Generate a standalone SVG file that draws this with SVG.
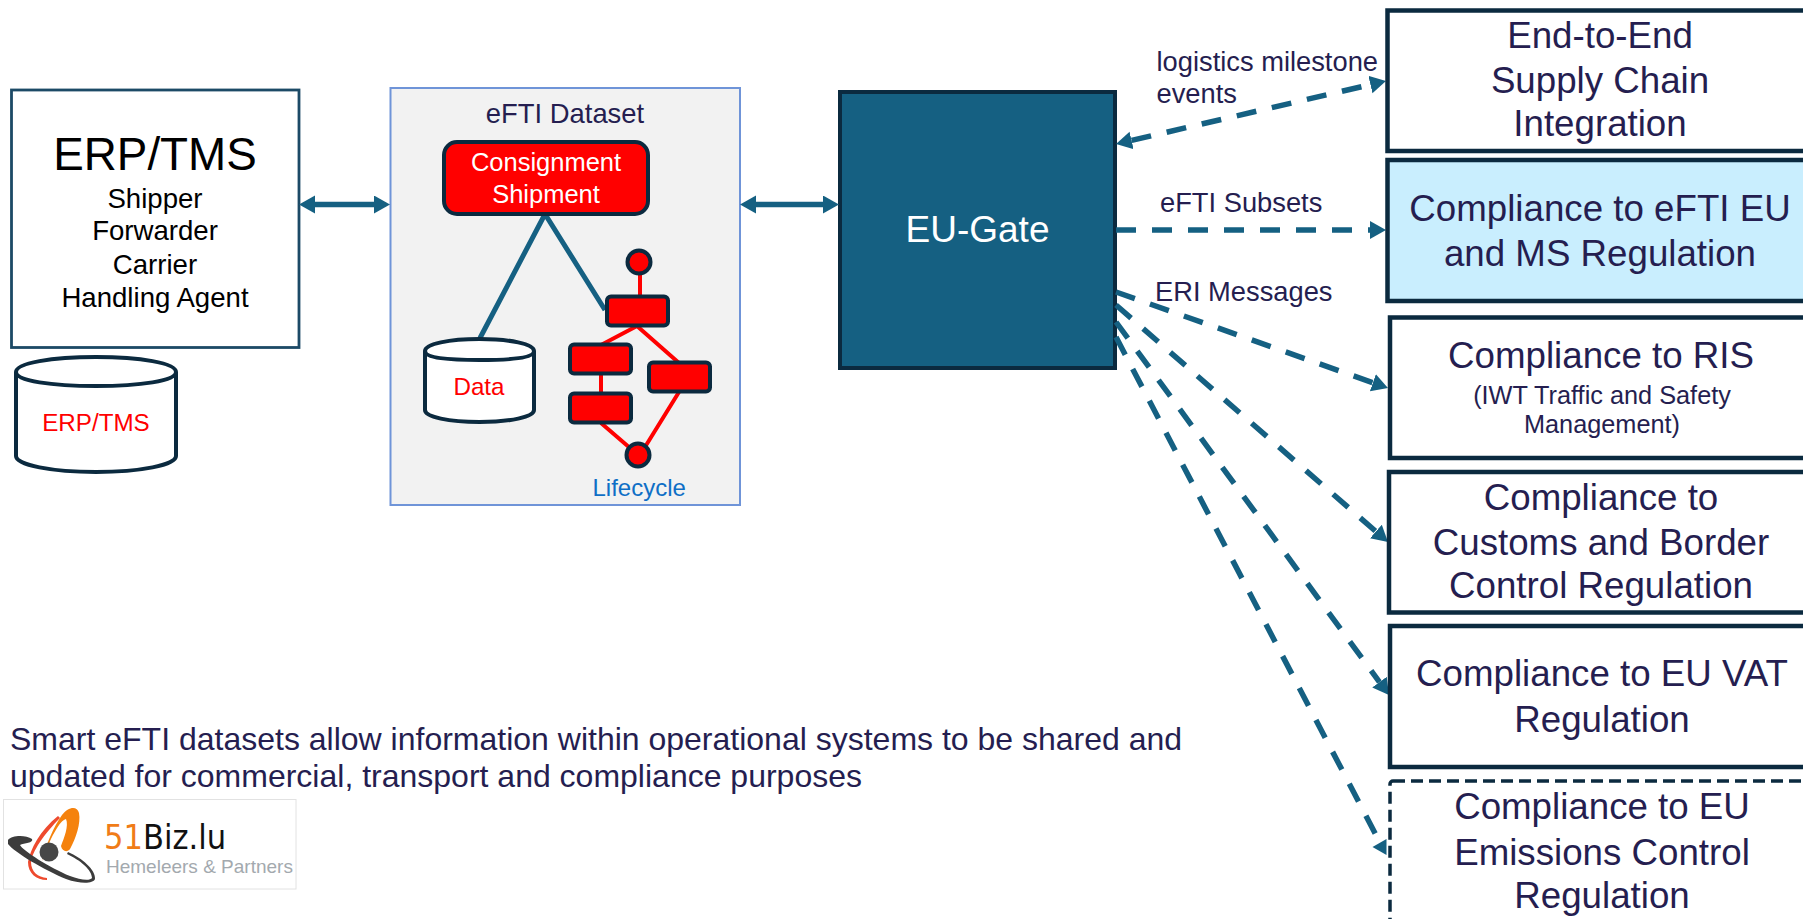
<svg xmlns="http://www.w3.org/2000/svg" width="1803" height="919" viewBox="0 0 1803 919">
<style>
text{font-family:"Liberation Sans",Arial,sans-serif;fill:#251e50}
.c{text-anchor:middle}
.box{fill:#fff;stroke:#0b2a3f;stroke-width:4.5}
.big{font-size:36.7px}
.sub{font-size:25.3px}
.lab{font-size:27.3px}
.blk{font-size:27.6px;fill:#000}
.red{fill:#f00;stroke:#0b2a3f;stroke-width:4}
.rl{stroke:#f00;stroke-width:4;fill:none}
.cyl{fill:#fff;stroke:#0b2a3f;stroke-width:4}
.sol{stroke:#156082;stroke-width:5.5;fill:none}
.dash{stroke:#156082;stroke-width:5.5;fill:none;stroke-dasharray:20 16}
</style>
<defs>
<marker id="ah" markerUnits="userSpaceOnUse" markerWidth="17" markerHeight="20" refX="0" refY="9" orient="auto-start-reverse"><path d="M0 0L16 9L0 18Z" fill="#156082"/></marker>
<marker id="ahl" markerUnits="userSpaceOnUse" markerWidth="15" markerHeight="18" refX="0" refY="8" orient="180"><path d="M0 0L14 8L0 16Z" fill="#156082"/></marker>
</defs>
<rect width="1803" height="919" fill="#fff"/>

<g id="erp-tms">
<rect x="11.5" y="90" width="287.5" height="257.5" fill="#fff" stroke="#1c4a66" stroke-width="2.8"/>
<text class="c" x="155" y="170" font-size="45.8" style="fill:#000">ERP/TMS</text>
<text class="c blk" x="155" y="208">Shipper</text>
<text class="c blk" x="155" y="240">Forwarder</text>
<text class="c blk" x="155" y="274">Carrier</text>
<text class="c blk" x="155" y="307">Handling Agent</text>
</g>
<g id="erp-db">
<path class="cyl" d="M16 372V456C16 465 52 472 96 472S176 465 176 456V372C176 363 140 357 96 357S16 363 16 372C16 381 52 386 96 386S176 381 176 372"/>
<text class="c" x="96" y="431" font-size="24.200" style="fill:#f00">ERP/TMS</text>
</g>

<g id="dataset">
<rect x="390.5" y="88" width="349.5" height="417" fill="#f2f2f2" stroke="#6f94d8" stroke-width="2"/>
<text class="c" x="565" y="123" font-size="27.400">eFTI Dataset</text>
</g>
<g id="dataset-links">
<path d="M480 338L545 214L605 310" fill="none" stroke="#156082" stroke-width="5"/>
</g>
<g id="consignment">
<rect class="red" x="444" y="142" width="204" height="72" rx="13"/>
<text class="c" x="546" y="171" font-size="25.500" style="fill:#fff">Consignment</text>
<text class="c" x="546" y="203" font-size="25.500" style="fill:#fff">Shipment</text>
</g>
<g id="data">
<path class="cyl" d="M425 351V410C425 417 449 422 479.500 422S534 417 534 410V351C534 344 510 339 479.500 339S425 344 425 351C425 358 449 360 479.500 360S534 358 534 351"/>
<text class="c" x="479" y="395" font-size="24.200" style="fill:#f00">Data</text>
</g>
<g id="lifecycle">
<path class="rl" d="M640 272V296M637 326L601 345M637 326L679 363M601 374V393M601 423L630 448M679 392L645 447"/>
<circle class="red" cx="639" cy="262" r="11.500"/>
<rect class="red" x="607" y="296.500" width="61" height="29" rx="4"/>
<rect class="red" x="570" y="344.500" width="61" height="29" rx="4"/>
<rect class="red" x="570" y="393.500" width="61" height="29" rx="4"/>
<rect class="red" x="649" y="362.500" width="61" height="29" rx="4"/>
<circle class="red" cx="638" cy="455" r="11.500"/>
<text x="592.500" y="496" font-size="24" style="fill:#0f6fc6">Lifecycle</text>
</g>

<g id="eu-gate">
<rect x="840" y="92" width="275" height="276" fill="#156082" stroke="#0b2a3f" stroke-width="4"/>
<text class="c" x="977.500" y="242" font-size="37" style="fill:#fff">EU-Gate</text>
</g>

<g id="connectors">
<line class="sol" x1="315" y1="204.500" x2="374" y2="204.500" marker-start="url(#ah)" marker-end="url(#ah)"/>
<line class="sol" x1="756" y1="204.500" x2="823" y2="204.500" marker-start="url(#ah)" marker-end="url(#ah)"/>
<line class="dash" x1="1131.600" y1="140.400" x2="1370.400" y2="84.600" marker-start="url(#ah)" marker-end="url(#ah)"/>
<line class="dash" x1="1116" y1="230" x2="1370" y2="230" marker-end="url(#ah)"/>
<line class="dash" x1="1116" y1="292" x2="1372.900" y2="382.700" marker-end="url(#ah)"/>
<line class="dash" x1="1116" y1="305" x2="1375.900" y2="531.500" marker-end="url(#ah)"/>
<line class="dash" x1="1116" y1="322" x2="1379.500" y2="682.100" marker-end="url(#ah)"/>
<path class="dash" d="M1116 337L1376 835"/>
<line x1="1386" y1="847" x2="1386.500" y2="847" stroke="none" stroke-width="1" marker-end="url(#ahl)"/>
<text class="lab" x="1156.500" y="71">logistics milestone</text>
<text class="lab" x="1156.500" y="103">events</text>
<text class="lab" x="1160" y="212">eFTI Subsets</text>
<text class="lab" x="1155" y="301">ERI Messages</text>
</g>

<g id="e2e">
<rect class="box" x="1387.500" y="10.500" width="430" height="140.500"/>
<text class="c big" x="1600" y="48">End-to-End</text>
<text class="c big" x="1600" y="93">Supply Chain</text>
<text class="c big" x="1600" y="136">Integration</text>
</g>
<g id="eu-ms">
<rect class="box" x="1387.500" y="160" width="430" height="141" style="fill:#c9eefe"/>
<text class="c big" x="1600" y="221">Compliance to eFTI EU</text>
<text class="c big" x="1600" y="266">and MS Regulation</text>
</g>
<g id="ris">
<rect class="box" x="1390" y="317.500" width="430" height="140.500"/>
<text class="c big" x="1601" y="368">Compliance to RIS</text>
<text class="c sub" x="1602" y="404">(IWT Traffic and Safety</text>
<text class="c sub" x="1602" y="433">Management)</text>
</g>
<g id="customs">
<rect class="box" x="1389" y="472" width="430" height="140.500"/>
<text class="c big" x="1601" y="510">Compliance to</text>
<text class="c big" x="1601" y="555">Customs and Border</text>
<text class="c big" x="1601" y="598">Control Regulation</text>
</g>
<g id="vat">
<rect class="box" x="1390" y="626" width="430" height="141"/>
<text class="c big" x="1602" y="686">Compliance to EU VAT</text>
<text class="c big" x="1602" y="732">Regulation</text>
</g>
<g id="emissions">
<rect x="1390" y="781" width="430" height="170" rx="3" fill="#fff" stroke="#0b2a3f" stroke-width="3.500" stroke-dasharray="12 6"/>
<text class="c big" x="1602" y="819">Compliance to EU</text>
<text class="c big" x="1602" y="865">Emissions Control</text>
<text class="c big" x="1602" y="908">Regulation</text>
</g>

<g id="note">
<text x="10" y="750" font-size="32">Smart eFTI datasets allow information within operational systems to be shared and</text>
<text x="10" y="787" font-size="32">updated for commercial, transport and compliance purposes</text>
</g>

<g id="logo">
<rect x="3.500" y="799.500" width="292.500" height="89.500" fill="#fff" stroke="#e2e2e2" stroke-width="1"/>
<path d="M42 862C46 844 54 826 62 815C68 807 77 805 79 813C81 823 76 838 70 849C67 853 62 851 61 846C64 838 69 826 66 819C60 820 50 838 42 862Z" fill="#f5820d"/>
<path d="M47 880C36 880 28 873 28 862C30 850 40 830 58 816L60 818C44 834 32 852 31 862C31 872 38 877 47 878Z" fill="#ee4a2e"/>
<path d="M8 840C12 835 26 835 32 839C34 843 24 843 20 845C22 850 50 868 70 876C80 880 90 881 92 878C92 870 80 860 67 854L68 852C82 858 96 870 95 879C93 884 80 884 66 879C44 870 14 852 8 844Z" fill="#3c3c3c"/>
<circle cx="49" cy="852" r="9.500" fill="#474747"/>
<text x="104" y="849" font-size="34" style="font-family:'DejaVu Sans',sans-serif;font-stretch:condensed;fill:#111"><tspan style="fill:#f07c17">51</tspan>Biz.lu</text>
<text x="106" y="873" font-size="19" style="fill:#a3a9ae">Hemeleers &amp; Partners</text>
</g>
</svg>
